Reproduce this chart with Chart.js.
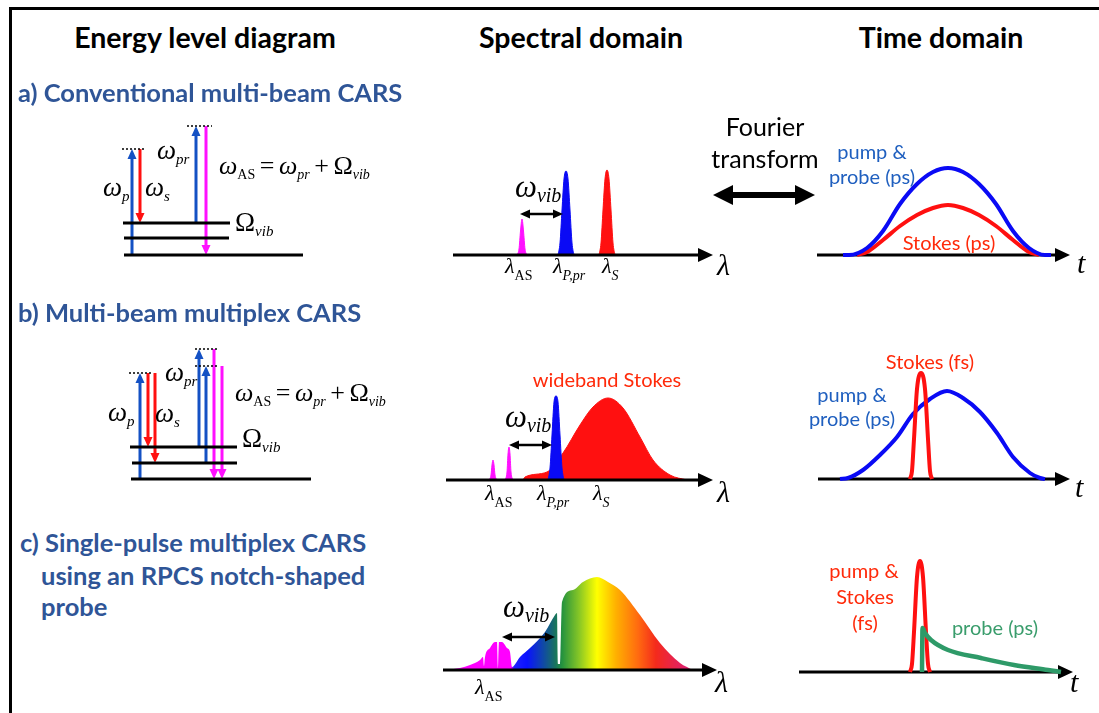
<!DOCTYPE html>
<html>
<head>
<meta charset="utf-8">
<script src="https://cdn.jsdelivr.net/npm/chart.js@4.4.1/dist/chart.umd.min.js"></script>
<style>
body { margin:0; width:1099px; height:713px; position:relative; overflow:hidden; background:#fff; }
#frame { position:absolute; left:9px; top:7px; width:1200px; height:800px; border-left:3px solid #000; border-top:3px solid #000; }
canvas { position:absolute; }
.t { position:absolute; white-space:nowrap; line-height:1; z-index:2; }
.hd { font:bold 28.5px Lato, sans-serif; color:#000; }
.sec { font:bold 25.5px Lato, sans-serif; color:#2f5597; }
.ft { font:25px Lato, sans-serif; color:#000; }
.nb { font:20px Lato, sans-serif; color:#1f5fbf; }
.nr { font:20px Lato, sans-serif; color:#ff2a0a; }
.ng { font:20px Lato, sans-serif; color:#3a9d6c; }
.m { font-family:'Liberation Serif', serif; font-style:italic; font-size:27px; color:#000; }
.m sub { font-size:15px; vertical-align:-5px; line-height:0; }
.up { font-style:normal; }
.eq { font-size:26px; word-spacing:-2px; }
.eq sub { font-size:14px; }
.ml { font-size:22px; }
.ml sub { font-size:14px; vertical-align:-7px; }
.mv { font-size:31px; }
.mv sub { font-size:20px; vertical-align:-5px; }
.mb { font-size:30px; }
</style>
</head>
<body>
<div id="frame"></div>
<svg style="position:absolute;left:0;top:0" width="1099" height="713">
  <polygon points="713,195 733,185 733,192 795,192 795,185 815,195 795,205 795,198 733,198 733,205" fill="#000"/>
</svg>
<script>
// energy level diagrams: energy above the ground state (a.u.)
const energyA = [0, 17, 32, 106, 129];          // ground, v1, v2, virtual (pump), virtual (probe)
const energyB = [0, 16, 32, 106, 113, 130];     // ground, v1, v2, virtual (pump), virtual (probe 2), virtual (probe 1)

// spectral domain: [lambda (a.u.), intensity (a.u.)]
const specA_AS = [[64,0],[66,6],[67.5,24],[69,36],[70.5,24],[72,6],[74,0]];
const specA_pump = [[105,0],[107,12],[109,45],[111,76],[113,84],[115,76],[117,45],[119,12],[121,0]];
const specA_stokes = [[146,0],[148,12],[150,45],[152,76],[154,85],[156,76],[158,45],[160,12],[162,0]];

const specB_AS1 = [[43,0],[45,5],[46,15],[47,20],[48,15],[49,5],[51,0]];
const specB_AS2 = [[59,0],[61,8],[62,26],[63,33],[64,26],[65,8],[67,0]];
const specB_pump = [[102,0],[104,12],[106,45],[108,78],[110,84],[112,78],[114,45],[116,12],[118,0]];
const specB_stokes = [[77,0],[79,3],[101,8],[117,27],[134,55],[147,73],[162,82],[177,72],[194,43],[207,20],[224,5],[241,0]];

const specC_pulse = [[4,0],[17,2],[27,5],[37,10],[40,13],[41,4],[42,13],[47,22],[52,28],[54,28],[55,2],[56,28],[59,28],[64,22],[67,18],[69,3],
  [77,13],[87,22],[102,38],[112,55],[114,57],[115,6],[117,6],[119,68],[130,80],[140,88],[154,93],[165,88],[177,80],[197,55],[217,27],[237,7],[250,0]];
const specC_colors = [[0,'#ff00ff'],[68,'#ff00ff'],[71,'#2020ff'],[84,'#0a12ff'],[100,'#1048a8'],[112,'#187260'],[119,'#24923e'],
  [136,'#86c626'],[154,'#ffff00'],[173,'#ffb000'],[195,'#ff6a10'],[213,'#f42a1c'],[242,'#e0206a']];

// time domain: [t (a.u.), amplitude (a.u.)]
const timeA_pumpProbe = [[26,0],[32,0],[50,7],[66,24],[83,51],[100,71],[116,83],[131,87],[146,83],[162,71],[179,51],[196,24],[212,7],[228,0],[234,0]];
const timeA_stokes = [[40,0],[50,3],[66,15],[83,29],[100,40],[116,47],[131,50],[146,47],[162,40],[179,29],[196,15],[212,3],[222,0]];

const timeB_pumpProbe = [[22,0],[30,1],[45,9],[62,24],[79,42],[95,65],[112,80],[129,88],[145,81],[162,67],[179,46],[195,22],[212,6],[222,1],[227,0]];
const timeB_stokes = [[92,0],[94,8],[96,40],[99,90],[103,106],[107,90],[110,40],[112,8],[114,0]];

const timeC_pumpStokes = [[111,0],[113,8],[115,40],[118,95],[121,111],[124,95],[127,40],[129,8],[131,0]];
const timeC_probe = [[123,0],[123.5,44],[126,39],[132,32],[149,22],[182,14],[215,7],[249,2],[262,0]];

const P = 24;
const E_BLUE = '#1451c4', BLUE = '#0a0af5', RED = '#ff1010', MAG = '#ff10ff', GREEN = '#2e9a68';
const H_SMALL = { end: { len: 10, wid: 9 } };
const H_BOTH = { start: { len: 10, wid: 9 }, end: { len: 10, wid: 9 } };

const pts = a => a.map(([x, y]) => ({ x, y }));

// draws arrow heads on datasets that have a "head" entry
const arrowPlugin = {
  id: 'arrows',
  beforeDatasetDraw(chart, args) {
    const ds = chart.data.datasets[args.index];
    if (!ds.head) return;
    const p = args.meta.data;
    const tips = [];
    const cut = (a, b, h) => {
      const dx = a.x - b.x, dy = a.y - b.y, L = Math.hypot(dx, dy);
      const t = { x: a.x, y: a.y, ux: dx / L, uy: dy / L, h, el: a };
      tips.push(t);
      a.x -= t.ux * h.len * 0.7; a.y -= t.uy * h.len * 0.7;
    };
    if (ds.head.end) cut(p[p.length - 1], p[p.length - 2], ds.head.end);
    if (ds.head.start) cut(p[0], p[1], ds.head.start);
    args.meta.dataset._path = undefined;
    args.meta._tips = tips;
  },
  afterDatasetDraw(chart, args) {
    const tips = args.meta._tips;
    if (!tips) return;
    const ctx = chart.ctx;
    ctx.save();
    ctx.fillStyle = chart.data.datasets[args.index].borderColor;
    tips.forEach(t => {
      const bx = t.x - t.ux * t.h.len, by = t.y - t.uy * t.h.len;
      const nx = -t.uy * t.h.wid / 2, ny = t.ux * t.h.wid / 2;
      ctx.beginPath();
      ctx.moveTo(t.x, t.y);
      ctx.lineTo(bx + nx, by + ny);
      ctx.lineTo(bx - nx, by - ny);
      ctx.closePath();
      ctx.fill();
      t.el.x = t.x; t.el.y = t.y;
    });
    ctx.restore();
    args.meta._tips = null;
  }
};

function panel(left, base, W, H, datasets) {
  const cv = document.createElement('canvas');
  cv.width = W + 2 * P;
  cv.height = H + 2 * P;
  cv.style.left = (left - P) + 'px';
  cv.style.top = (base - H - P) + 'px';
  document.body.appendChild(cv);
  return new Chart(cv, {
    type: 'line',
    data: { datasets },
    options: {
      responsive: false,
      animation: false,
      events: [],
      layout: { padding: P },
      plugins: { legend: { display: false }, tooltip: { enabled: false } },
      elements: { point: { radius: 0 } },
      scales: {
        x: { type: 'linear', min: 0, max: W, display: false },
        y: { type: 'linear', min: 0, max: H, display: false }
      }
    },
    plugins: [arrowPlugin]
  });
}

function seg(x0, y0, x1, y1, color, w, head, dash) {
  return { data: pts([[x0, y0], [x1, y1]]), borderColor: color, borderWidth: w, fill: false, tension: 0,
           borderDash: dash || [], borderCapStyle: 'butt', head, clip: false };
}
const axis = W => seg(0, 0, W, 0, '#000', 3, { end: { len: 15, wid: 14 } });
const curve = (a, color, w) => ({ data: pts(a), borderColor: color, borderWidth: w, fill: false,
  cubicInterpolationMode: 'monotone', borderJoinStyle: 'round', clip: false });
const peak = (a, color) => ({ data: pts(a), borderColor: color, backgroundColor: color, borderWidth: 1,
  fill: 'origin', cubicInterpolationMode: 'monotone', clip: false });
const dotted = (x0, x1, e) => seg(x0, e, x1, e, '#000', 1.6, null, [2, 2]);
const level = (x0, x1, e) => seg(x0, e, x1, e, '#000', 3);

// a) energy levels
const eA = energyA;
panel(100, 255, 220, 140, [
  level(24, 203, eA[0]), level(24, 129, eA[1]), level(23, 130, eA[2]),
  dotted(22, 46, eA[3]), dotted(87, 112, eA[4]),
  seg(32, eA[0], 32, eA[3], E_BLUE, 3, H_SMALL),
  seg(40, eA[3], 40, eA[2], RED, 3, H_SMALL),
  seg(96, eA[2], 96, eA[4], E_BLUE, 3, H_SMALL),
  seg(106, eA[4], 106, eA[0], MAG, 3, H_SMALL)
]);

// b) energy levels
const eB = energyB;
panel(100, 479, 220, 140, [
  level(31, 211, eB[0]), level(32, 137, eB[1]), level(30, 137, eB[2]),
  dotted(29, 53, eB[3]), dotted(95, 118, eB[4]), dotted(95, 118, eB[5]),
  seg(40, eB[0], 40, eB[3], E_BLUE, 3, H_SMALL),
  seg(48, eB[3], 48, eB[2], RED, 3, H_SMALL),
  seg(55, eB[3], 55, eB[1], RED, 3, H_SMALL),
  seg(99, eB[2], 99, eB[5], E_BLUE, 3, H_SMALL),
  seg(106, eB[1], 106, eB[4], E_BLUE, 3, H_SMALL),
  seg(114, eB[5], 114, eB[0], MAG, 3, H_SMALL),
  seg(122, eB[4], 122, eB[0], MAG, 3, H_SMALL)
]);

// spectral domain
panel(453, 255, 260, 100, [
  axis(260),
  seg(67, 41, 110, 41, '#000', 2.5, H_BOTH),
  peak(specA_AS, MAG), peak(specA_pump, BLUE), peak(specA_stokes, RED)
]);
panel(446, 480, 267, 100, [
  axis(267),
  seg(63, 35, 106, 35, '#000', 2.5, H_BOTH),
  peak(specB_AS1, MAG), peak(specB_AS2, MAG), peak(specB_pump, BLUE), peak(specB_stokes, RED)
]);
const rainbow = {
  data: pts(specC_pulse), borderWidth: 0, borderColor: 'rgba(0,0,0,0)', fill: 'origin',
  cubicInterpolationMode: 'monotone', clip: false,
  backgroundColor: ctx => {
    const ch = ctx.chart, x = ch.scales.x;
    if (!ch.chartArea || !x) return '#ff00ff';
    const g = ch.ctx.createLinearGradient(ch.chartArea.left, 0, ch.chartArea.right, 0);
    const span = ch.chartArea.right - ch.chartArea.left;
    specC_colors.forEach(([l, c]) => g.addColorStop((x.getPixelForValue(l) - ch.chartArea.left) / span, c));
    return g;
  }
};
panel(443, 670, 274, 100, [
  axis(274),
  seg(59, 33, 112, 33, '#000', 2.5, H_BOTH),
  rainbow
]);

// time domain
panel(817, 255, 253, 115, [
  curve(timeA_pumpProbe, BLUE, 4), curve(timeA_stokes, RED, 4), axis(253)
]);
panel(818, 479, 252, 115, [
  curve(timeB_stokes, RED, 4), curve(timeB_pumpProbe, BLUE, 4), axis(252)
]);
panel(799, 672, 274, 115, [
  curve(timeC_probe, GREEN, 4.5), curve(timeC_pumpStokes, RED, 4), axis(274)
]);

// text
const ASC = 0.887, ASC_SERIF = 0.8375;
function put(html, x, base, cls, align) {
  const d = document.createElement('div');
  d.className = 't ' + cls;
  d.innerHTML = html;
  document.body.appendChild(d);
  const fs = parseFloat(getComputedStyle(d).fontSize);
  const asc = cls.split(' ')[0] === 'm' ? ASC_SERIF : ASC;
  d.style.top = (base - fs * asc) + 'px';
  d.style.left = x + 'px';
  if (align === 'c') d.style.transform = 'translateX(-50%)';
}

put('Energy level diagram', 205, 45, 'hd', 'c');
put('Spectral domain', 581, 45, 'hd', 'c');
put('Time domain', 941, 45, 'hd', 'c');
put('a) Conventional multi-beam CARS', 18, 100, 'sec');
put('b) Multi-beam multiplex CARS', 18, 320, 'sec');
put('c) Single-pulse multiplex CARS', 20, 550, 'sec');
put('using an RPCS notch-shaped', 41, 583, 'sec');
put('probe', 41, 614, 'sec');
put('Fourier', 765, 133, 'ft', 'c');
put('transform', 765, 165, 'ft', 'c');

put('pump &amp;', 872, 157, 'nb', 'c');
put('probe (ps)', 872, 182, 'nb', 'c');
put('Stokes (ps)', 949, 248, 'nr', 'c');
put('Stokes (fs)', 930, 367, 'nr', 'c');
put('pump &amp;', 852, 400, 'nb', 'c');
put('probe (ps)', 852, 424, 'nb', 'c');
put('pump &amp;', 864, 576, 'nr', 'c');
put('Stokes', 865, 602, 'nr', 'c');
put('(fs)', 865, 628, 'nr', 'c');
put('probe (ps)', 995, 633, 'ng', 'c');
put('wideband Stokes', 607, 385, 'nr', 'c');

const EQ = 'ω<sub class="up">AS</sub> <span class="up">=</span> ω<sub>pr</sub> <span class="up">+</span> <span class="up">Ω</span><sub>vib</sub>';
const OMV = '<span class="up">Ω</span><sub>vib</sub>';
put('ω<sub>p</sub>', 103, 197, 'm');
put('ω<sub>s</sub>', 145, 197, 'm');
put('ω<sub>pr</sub>', 157, 160, 'm');
put(EQ, 219, 175, 'm eq');
put(OMV, 235, 232, 'm');
put('ω<sub>p</sub>', 108, 422, 'm');
put('ω<sub>s</sub>', 155, 423, 'm');
put('ω<sub>pr</sub>', 165, 382, 'm');
put(EQ, 235, 402, 'm eq');
put(OMV, 242, 448, 'm');

put('ω<sub>vib</sub>', 515, 197, 'm mv');
put('ω<sub>vib</sub>', 505, 427, 'm mv');
put('ω<sub>vib</sub>', 503, 617, 'm mv');
put('λ<sub class="up">AS</sub>', 505, 273, 'm ml');
put('λ<sub>P,pr</sub>', 553, 273, 'm ml');
put('λ<sub>S</sub>', 602, 273, 'm ml');
put('λ<sub class="up">AS</sub>', 485, 500, 'm ml');
put('λ<sub>P,pr</sub>', 537, 500, 'm ml');
put('λ<sub>S</sub>', 593, 500, 'm ml');
put('λ<sub class="up">AS</sub>', 475, 694, 'm ml');
put('λ', 717, 275, 'm mb');
put('λ', 717, 502, 'm mb');
put('λ', 715, 692, 'm mb');
put('t', 1077, 273, 'm mb');
put('t', 1075, 497, 'm mb');
put('t', 1070, 692, 'm mb');
</script>
</body>
</html>
